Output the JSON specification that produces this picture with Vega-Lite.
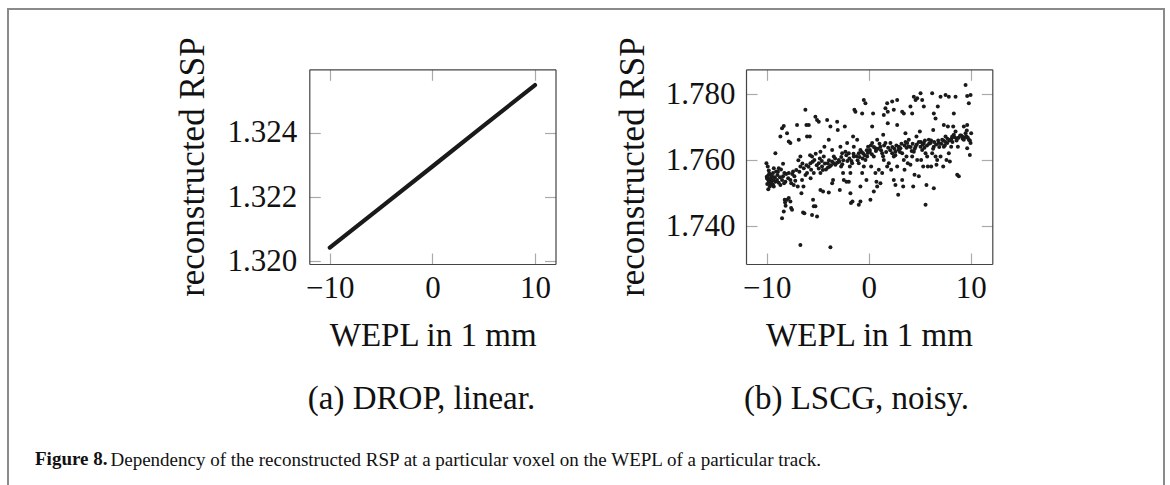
{
  "$schema": "https://vega.github.io/schema/vega-lite/v6.json",
  "autosize": {"type": "none"},
  "width": 1156,
  "height": 476,
  "padding": {"left": 8, "top": 9, "right": 6, "bottom": 0},
  "background": "white",
  "config": {
    "view": {"stroke": "#8a8a8a", "strokeWidth": 2, "strokeDash": [1632, 1156, 476]},
    "font": "Liberation Serif",
    "axis": {
      "grid": false,
      "domainColor": "#444",
      "domainWidth": 1.2,
      "tickColor": "#aaaaaa",
      "tickWidth": 1.2,
      "tickSize": -11,
      "labelFont": "Liberation Serif",
      "labelFontSize": 31,
      "labelColor": "#111",
      "titleFont": "Liberation Serif",
      "titleFontSize": 33,
      "titleFontWeight": "normal",
      "titleColor": "#111"
    }
  },
  "title": {
    "text": "Figure 8.",
    "orient": "bottom",
    "anchor": "start",
    "frame": "group",
    "offset": -20,
    "dx": 27,
    "baseline": "alphabetic",
    "font": "Liberation Serif",
    "fontSize": 19,
    "fontWeight": "bold",
    "color": "#111"
  },
  "datasets": {
    "drop": [
      {"wepl": -10, "rsp": 1.32043},
      {"wepl": -5, "rsp": 1.32169},
      {"wepl": 0, "rsp": 1.32295},
      {"wepl": 5, "rsp": 1.32422},
      {"wepl": 10, "rsp": 1.32548}
    ],
    "lscg": [
      {"wepl":-10.03,"rsp":1.7591},{"wepl":-9.90,"rsp":1.7581},{"wepl":-9.80,"rsp":1.7535},{"wepl":-9.71,"rsp":1.7540},{"wepl":-9.97,"rsp":1.7545},{"wepl":-9.58,"rsp":1.7532},{"wepl":-9.48,"rsp":1.7551},{"wepl":-9.38,"rsp":1.7561},{"wepl":-9.64,"rsp":1.7525},{"wepl":-9.31,"rsp":1.7520},{"wepl":-9.15,"rsp":1.7535},{"wepl":-9.80,"rsp":1.7569},{"wepl":-9.87,"rsp":1.7553},{"wepl":-9.31,"rsp":1.7576},{"wepl":-9.08,"rsp":1.7566},{"wepl":-9.15,"rsp":1.7621},{"wepl":-10.0,"rsp":1.7550},{"wepl":-9.95,"rsp":1.7528},{"wepl":-9.75,"rsp":1.7560},{"wepl":-9.6,"rsp":1.7545},{"wepl":-9.5,"rsp":1.7538},{"wepl":-9.4,"rsp":1.7527},{"wepl":-9.2,"rsp":1.7548},{"wepl":-9.9,"rsp":1.7542},{"wepl":-9.7,"rsp":1.7520},{"wepl":-9.55,"rsp":1.7555},{"wepl":-9.85,"rsp":1.7512},{"wepl":-9.35,"rsp":1.7540},
      {"wepl":-8.99,"rsp":1.7540},{"wepl":-8.82,"rsp":1.7532},{"wepl":-8.66,"rsp":1.7525},{"wepl":-8.50,"rsp":1.7540},{"wepl":-8.40,"rsp":1.7551},{"wepl":-8.27,"rsp":1.7561},{"wepl":-8.17,"rsp":1.7535},{"wepl":-8.66,"rsp":1.7672},{"wepl":-8.50,"rsp":1.7697},{"wepl":-8.33,"rsp":1.7704},{"wepl":-8.50,"rsp":1.7424},{"wepl":-8.33,"rsp":1.7444},{"wepl":-8.24,"rsp":1.7480},{"wepl":-8.40,"rsp":1.7589},{"wepl":-8.82,"rsp":1.7576},{"wepl":-8.9,"rsp":1.7565},{"wepl":-8.7,"rsp":1.7548},{"wepl":-8.6,"rsp":1.7572},{"wepl":-8.3,"rsp":1.7530},{"wepl":-8.1,"rsp":1.7558},{"wepl":-8.2,"rsp":1.7472},{"wepl":-8.15,"rsp":1.7462},{"wepl":-8.95,"rsp":1.7555},
      {"wepl":-8.01,"rsp":1.7682},{"wepl":-7.84,"rsp":1.7657},{"wepl":-7.68,"rsp":1.7652},{"wepl":-8.01,"rsp":1.7480},{"wepl":-7.84,"rsp":1.7485},{"wepl":-7.68,"rsp":1.7475},{"wepl":-7.61,"rsp":1.7455},{"wepl":-7.52,"rsp":1.7450},{"wepl":-7.84,"rsp":1.7561},{"wepl":-7.68,"rsp":1.7540},{"wepl":-7.35,"rsp":1.7525},{"wepl":-7.29,"rsp":1.7551},{"wepl":-7.42,"rsp":1.7566},{"wepl":-7.9,"rsp":1.7545},{"wepl":-7.5,"rsp":1.7558},{"wepl":-7.2,"rsp":1.7538},{"wepl":-7.6,"rsp":1.7530},{"wepl":-7.1,"rsp":1.7570},
      {"wepl":-7.03,"rsp":1.7707},{"wepl":-6.86,"rsp":1.7662},{"wepl":-6.70,"rsp":1.7581},{"wepl":-6.54,"rsp":1.7540},{"wepl":-6.44,"rsp":1.7441},{"wepl":-6.31,"rsp":1.7439},{"wepl":-6.60,"rsp":1.7500},{"wepl":-6.96,"rsp":1.7520},{"wepl":-6.70,"rsp":1.7611},{"wepl":-6.37,"rsp":1.7576},{"wepl":-6.21,"rsp":1.7753},{"wepl":-6.11,"rsp":1.7707},{"wepl":-6.05,"rsp":1.7672},{"wepl":-6.70,"rsp":1.7343},{"wepl":-6.8,"rsp":1.7565},{"wepl":-6.5,"rsp":1.7590},{"wepl":-6.2,"rsp":1.7555},{"wepl":-6.9,"rsp":1.7600},{"wepl":-6.4,"rsp":1.7520},{"wepl":-6.1,"rsp":1.7585},
      {"wepl":-5.88,"rsp":1.7707},{"wepl":-5.78,"rsp":1.7672},{"wepl":-5.72,"rsp":1.7591},{"wepl":-5.65,"rsp":1.7571},{"wepl":-5.39,"rsp":1.7561},{"wepl":-5.56,"rsp":1.7611},{"wepl":-5.46,"rsp":1.7480},{"wepl":-5.56,"rsp":1.7434},{"wepl":-5.39,"rsp":1.7460},{"wepl":-5.23,"rsp":1.7732},{"wepl":-5.33,"rsp":1.7601},{"wepl":-5.75,"rsp":1.7615},{"wepl":-6.05,"rsp":1.7561},{"wepl":-5.9,"rsp":1.7580},{"wepl":-5.5,"rsp":1.7595},{"wepl":-5.2,"rsp":1.7620},{"wepl":-5.7,"rsp":1.7545},{"wepl":-5.1,"rsp":1.7585},
      {"wepl":-5.07,"rsp":1.7722},{"wepl":-4.90,"rsp":1.7717},{"wepl":-4.74,"rsp":1.7626},{"wepl":-4.90,"rsp":1.7591},{"wepl":-4.58,"rsp":1.7581},{"wepl":-4.41,"rsp":1.7611},{"wepl":-5.07,"rsp":1.7429},{"wepl":-4.74,"rsp":1.7510},{"wepl":-4.48,"rsp":1.7505},{"wepl":-4.35,"rsp":1.7641},{"wepl":-4.74,"rsp":1.7561},{"wepl":-5.23,"rsp":1.7460},{"wepl":-4.9,"rsp":1.7575},{"wepl":-4.6,"rsp":1.7598},{"wepl":-4.3,"rsp":1.7590},{"wepl":-4.2,"rsp":1.7572},{"wepl":-4.8,"rsp":1.7605},{"wepl":-4.5,"rsp":1.7570},
      {"wepl":-3.76,"rsp":1.7336},{"wepl":-4.08,"rsp":1.7722},{"wepl":-3.92,"rsp":1.7662},{"wepl":-3.76,"rsp":1.7702},{"wepl":-3.59,"rsp":1.7631},{"wepl":-3.43,"rsp":1.7591},{"wepl":-4.02,"rsp":1.7591},{"wepl":-3.82,"rsp":1.7581},{"wepl":-3.59,"rsp":1.7530},{"wepl":-3.43,"rsp":1.7611},{"wepl":-3.27,"rsp":1.7586},{"wepl":-3.92,"rsp":1.7502},{"wepl":-3.50,"rsp":1.7540},{"wepl":-3.9,"rsp":1.7600},{"wepl":-3.7,"rsp":1.7585},{"wepl":-3.6,"rsp":1.7596},{"wepl":-3.3,"rsp":1.7605},{"wepl":-3.1,"rsp":1.7592},{"wepl":-4.0,"rsp":1.7578},
      {"wepl":-3.10,"rsp":1.7717},{"wepl":-3.04,"rsp":1.7692},{"wepl":-2.78,"rsp":1.7641},{"wepl":-2.94,"rsp":1.7601},{"wepl":-2.71,"rsp":1.7581},{"wepl":-2.52,"rsp":1.7561},{"wepl":-2.61,"rsp":1.7621},{"wepl":-2.45,"rsp":1.7540},{"wepl":-2.35,"rsp":1.7702},{"wepl":-2.84,"rsp":1.7510},{"wepl":-2.29,"rsp":1.7626},{"wepl":-2.9,"rsp":1.7595},{"wepl":-2.7,"rsp":1.7610},{"wepl":-2.5,"rsp":1.7600},{"wepl":-2.2,"rsp":1.7615},{"wepl":-2.6,"rsp":1.7588},{"wepl":-2.1,"rsp":1.7598},
      {"wepl":-2.12,"rsp":1.7652},{"wepl":-1.96,"rsp":1.7621},{"wepl":-1.86,"rsp":1.7581},{"wepl":-1.80,"rsp":1.7561},{"wepl":-1.63,"rsp":1.7591},{"wepl":-1.47,"rsp":1.7611},{"wepl":-1.41,"rsp":1.7753},{"wepl":-1.31,"rsp":1.7747},{"wepl":-1.80,"rsp":1.7500},{"wepl":-1.96,"rsp":1.7535},{"wepl":-1.54,"rsp":1.7672},{"wepl":-1.47,"rsp":1.7641},{"wepl":-2.19,"rsp":1.7535},{"wepl":-1.75,"rsp":1.7470},{"wepl":-1.6,"rsp":1.7475},{"wepl":-1.9,"rsp":1.7605},{"wepl":-1.7,"rsp":1.7598},{"wepl":-1.5,"rsp":1.7620},{"wepl":-1.2,"rsp":1.7612},{"wepl":-1.1,"rsp":1.7600},
      {"wepl":-0.98,"rsp":1.7465},{"wepl":-0.82,"rsp":1.7475},{"wepl":-0.49,"rsp":1.7783},{"wepl":-0.33,"rsp":1.7773},{"wepl":-0.65,"rsp":1.7742},{"wepl":-0.82,"rsp":1.7631},{"wepl":-0.56,"rsp":1.7621},{"wepl":-0.49,"rsp":1.7581},{"wepl":-0.33,"rsp":1.7601},{"wepl":-0.16,"rsp":1.7611},{"wepl":-1.14,"rsp":1.7662},{"wepl":-0.98,"rsp":1.7621},{"wepl":-0.65,"rsp":1.7561},{"wepl":-0.23,"rsp":1.7540},{"wepl":-0.07,"rsp":1.7641},{"wepl":-0.82,"rsp":1.7520},{"wepl":-0.98,"rsp":1.7591},{"wepl":-0.9,"rsp":1.7610},{"wepl":-0.7,"rsp":1.7625},{"wepl":-0.4,"rsp":1.7615},{"wepl":-0.2,"rsp":1.7630},{"wepl":-0.1,"rsp":1.7622},{"wepl":-0.6,"rsp":1.7605},
      {"wepl":0.16,"rsp":1.7480},{"wepl":0.49,"rsp":1.7505},{"wepl":0.82,"rsp":1.7520},{"wepl":0.42,"rsp":1.7742},{"wepl":0.23,"rsp":1.7581},{"wepl":0.49,"rsp":1.7611},{"wepl":0.65,"rsp":1.7636},{"wepl":0.82,"rsp":1.7662},{"wepl":0.10,"rsp":1.7631},{"wepl":0.33,"rsp":1.7652},{"wepl":0.65,"rsp":1.7561},{"wepl":0.98,"rsp":1.7571},{"wepl":0.75,"rsp":1.7535},{"wepl":0.33,"rsp":1.7702},{"wepl":0.1,"rsp":1.7625},{"wepl":0.3,"rsp":1.7618},{"wepl":0.5,"rsp":1.7640},{"wepl":0.7,"rsp":1.7628},{"wepl":0.9,"rsp":1.7635},{"wepl":0.2,"rsp":1.7645},
      {"wepl":1.47,"rsp":1.7737},{"wepl":1.63,"rsp":1.7758},{"wepl":1.80,"rsp":1.7773},{"wepl":1.86,"rsp":1.7747},{"wepl":1.14,"rsp":1.7641},{"wepl":1.31,"rsp":1.7621},{"wepl":1.47,"rsp":1.7601},{"wepl":1.63,"rsp":1.7652},{"wepl":1.80,"rsp":1.7581},{"wepl":1.96,"rsp":1.7591},{"wepl":1.31,"rsp":1.7561},{"wepl":1.14,"rsp":1.7530},{"wepl":1.86,"rsp":1.7712},{"wepl":1.41,"rsp":1.7677},{"wepl":1.2,"rsp":1.7630},{"wepl":1.5,"rsp":1.7645},{"wepl":1.7,"rsp":1.7625},{"wepl":1.9,"rsp":1.7638},{"wepl":1.4,"rsp":1.7612},{"wepl":1.05,"rsp":1.7650},
      {"wepl":2.29,"rsp":1.7778},{"wepl":2.45,"rsp":1.7753},{"wepl":2.78,"rsp":1.7783},{"wepl":2.88,"rsp":1.7495},{"wepl":2.12,"rsp":1.7652},{"wepl":2.29,"rsp":1.7621},{"wepl":2.45,"rsp":1.7611},{"wepl":2.61,"rsp":1.7626},{"wepl":2.78,"rsp":1.7581},{"wepl":2.94,"rsp":1.7641},{"wepl":2.45,"rsp":1.7540},{"wepl":2.61,"rsp":1.7525},{"wepl":2.19,"rsp":1.7571},{"wepl":2.78,"rsp":1.7707},{"wepl":2.1,"rsp":1.7630},{"wepl":2.3,"rsp":1.7640},{"wepl":2.5,"rsp":1.7635},{"wepl":2.7,"rsp":1.7645},{"wepl":2.9,"rsp":1.7632},{"wepl":2.6,"rsp":1.7615},
      {"wepl":3.27,"rsp":1.7747},{"wepl":3.43,"rsp":1.7742},{"wepl":3.59,"rsp":1.7682},{"wepl":3.76,"rsp":1.7652},{"wepl":3.27,"rsp":1.7621},{"wepl":3.43,"rsp":1.7601},{"wepl":3.10,"rsp":1.7636},{"wepl":3.69,"rsp":1.7611},{"wepl":3.50,"rsp":1.7571},{"wepl":3.82,"rsp":1.7591},{"wepl":3.27,"rsp":1.7540},{"wepl":3.92,"rsp":1.7662},{"wepl":3.37,"rsp":1.7520},{"wepl":3.2,"rsp":1.7650},{"wepl":3.5,"rsp":1.7645},{"wepl":3.7,"rsp":1.7638},{"wepl":3.9,"rsp":1.7642},{"wepl":3.05,"rsp":1.7625},{"wepl":3.6,"rsp":1.7655},
      {"wepl":4.08,"rsp":1.7763},{"wepl":4.25,"rsp":1.7742},{"wepl":4.41,"rsp":1.7793},{"wepl":4.58,"rsp":1.7783},{"wepl":4.74,"rsp":1.7788},{"wepl":4.25,"rsp":1.7611},{"wepl":4.41,"rsp":1.7626},{"wepl":4.58,"rsp":1.7641},{"wepl":4.74,"rsp":1.7601},{"wepl":4.35,"rsp":1.7520},{"wepl":4.48,"rsp":1.7556},{"wepl":4.90,"rsp":1.7551},{"wepl":4.67,"rsp":1.7672},{"wepl":4.08,"rsp":1.7586},{"wepl":4.1,"rsp":1.7640},{"wepl":4.3,"rsp":1.7650},{"wepl":4.5,"rsp":1.7635},{"wepl":4.7,"rsp":1.7648},{"wepl":4.9,"rsp":1.7655},{"wepl":4.2,"rsp":1.7628},
      {"wepl":5.07,"rsp":1.7803},{"wepl":5.23,"rsp":1.7783},{"wepl":5.39,"rsp":1.7763},{"wepl":5.56,"rsp":1.7465},{"wepl":5.65,"rsp":1.7525},{"wepl":5.07,"rsp":1.7641},{"wepl":5.23,"rsp":1.7631},{"wepl":5.39,"rsp":1.7652},{"wepl":5.56,"rsp":1.7621},{"wepl":5.72,"rsp":1.7611},{"wepl":5.88,"rsp":1.7662},{"wepl":5.13,"rsp":1.7601},{"wepl":5.33,"rsp":1.7581},{"wepl":5.78,"rsp":1.7581},{"wepl":5.00,"rsp":1.7687},{"wepl":5.1,"rsp":1.7655},{"wepl":5.3,"rsp":1.7648},{"wepl":5.5,"rsp":1.7660},{"wepl":5.7,"rsp":1.7645},{"wepl":5.9,"rsp":1.7650},{"wepl":5.45,"rsp":1.7638},
      {"wepl":6.21,"rsp":1.7803},{"wepl":6.37,"rsp":1.7742},{"wepl":6.54,"rsp":1.7727},{"wepl":6.76,"rsp":1.7763},{"wepl":6.37,"rsp":1.7515},{"wepl":6.05,"rsp":1.7652},{"wepl":6.21,"rsp":1.7621},{"wepl":6.37,"rsp":1.7641},{"wepl":6.54,"rsp":1.7611},{"wepl":6.70,"rsp":1.7601},{"wepl":6.86,"rsp":1.7652},{"wepl":6.11,"rsp":1.7581},{"wepl":6.63,"rsp":1.7586},{"wepl":6.31,"rsp":1.7692},{"wepl":6.1,"rsp":1.7660},{"wepl":6.4,"rsp":1.7655},{"wepl":6.6,"rsp":1.7648},{"wepl":6.8,"rsp":1.7660},{"wepl":6.9,"rsp":1.7640},{"wepl":6.3,"rsp":1.7635},
      {"wepl":7.03,"rsp":1.7793},{"wepl":7.52,"rsp":1.7798},{"wepl":7.84,"rsp":1.7793},{"wepl":7.19,"rsp":1.7662},{"wepl":7.35,"rsp":1.7641},{"wepl":7.52,"rsp":1.7672},{"wepl":7.68,"rsp":1.7652},{"wepl":7.84,"rsp":1.7621},{"wepl":7.03,"rsp":1.7611},{"wepl":7.29,"rsp":1.7581},{"wepl":7.61,"rsp":1.7601},{"wepl":7.75,"rsp":1.7702},{"wepl":7.35,"rsp":1.7707},{"wepl":7.1,"rsp":1.7650},{"wepl":7.3,"rsp":1.7660},{"wepl":7.5,"rsp":1.7655},{"wepl":7.7,"rsp":1.7665},{"wepl":7.9,"rsp":1.7660},{"wepl":7.45,"rsp":1.7645},
      {"wepl":8.33,"rsp":1.7742},{"wepl":8.50,"rsp":1.7793},{"wepl":8.66,"rsp":1.7556},{"wepl":8.82,"rsp":1.7551},{"wepl":8.01,"rsp":1.7662},{"wepl":8.17,"rsp":1.7672},{"wepl":8.33,"rsp":1.7677},{"wepl":8.50,"rsp":1.7687},{"wepl":8.66,"rsp":1.7667},{"wepl":8.07,"rsp":1.7641},{"wepl":8.27,"rsp":1.7702},{"wepl":8.73,"rsp":1.7641},{"wepl":7.94,"rsp":1.7596},{"wepl":8.1,"rsp":1.7665},{"wepl":8.4,"rsp":1.7670},{"wepl":8.6,"rsp":1.7660},{"wepl":8.8,"rsp":1.7668},{"wepl":8.95,"rsp":1.7675},{"wepl":8.2,"rsp":1.7655},
      {"wepl":9.48,"rsp":1.7828},{"wepl":9.64,"rsp":1.7795},{"wepl":9.80,"rsp":1.7773},{"wepl":9.97,"rsp":1.7798},{"wepl":9.31,"rsp":1.7702},{"wepl":9.48,"rsp":1.7682},{"wepl":9.64,"rsp":1.7707},{"wepl":9.80,"rsp":1.7662},{"wepl":9.97,"rsp":1.7652},{"wepl":9.15,"rsp":1.7672},{"wepl":9.64,"rsp":1.7636},{"wepl":9.90,"rsp":1.7616},{"wepl":10.03,"rsp":1.7682},{"wepl":9.31,"rsp":1.7662},{"wepl":9.58,"rsp":1.7672},{"wepl":9.2,"rsp":1.7665},{"wepl":9.4,"rsp":1.7670},{"wepl":9.7,"rsp":1.7668},{"wepl":9.9,"rsp":1.7660},{"wepl":9.05,"rsp":1.7675},{"wepl":9.6,"rsp":1.7690}
    ]
  },
  "layer": [
    {
      "data": {"name": "drop"},
      "layer": [
        {
          "mark": {"type": "line", "color": "#1a1a1a", "strokeWidth": 4.2, "strokeCap": "round"},
          "encoding": {
            "x": {"field": "wepl", "type": "quantitative",
              "scale": {"domain": [-12, 12], "range": [301.3, 547.5], "nice": false, "zero": false},
              "axis": {"orient": "bottom", "offset": -221, "values": [-10, 0, 10], "labelPadding": 20,
                "title": "WEPL in 1 mm", "titleX": 424.7, "titleY": 81, "titleBaseline": "alphabetic", "titleAlign": "center", "titleAngle": 0}},
            "y": {"field": "rsp", "type": "quantitative",
              "scale": {"domain": [1.31992, 1.32597], "range": [255, 60.3], "nice": false, "zero": false},
              "axis": {"orient": "left", "offset": -301.3, "values": [1.320, 1.322, 1.324], "format": ".3f", "labelPadding": 23.6,
                "title": "reconstructed RSP", "titleFontSize": 35, "titleX": -105.8, "titleY": 157.6, "titleAngle": 270, "titleBaseline": "alphabetic", "titleAlign": "center"}}
          }
        },
        {
          "mark": {"type": "line", "opacity": 0},
          "encoding": {
            "x": {"field": "wepl", "type": "quantitative",
              "axis": {"orient": "top", "offset": -60.3, "values": [-10, 0, 10], "labels": false,
                "title": "(a) DROP, linear.", "titleX": 413, "titleY": 338.7, "titleBaseline": "alphabetic", "titleAlign": "center", "titleAngle": 0}},
            "y": {"field": "rsp", "type": "quantitative",
              "axis": {"orient": "right", "offset": -608.5, "values": [1.320, 1.322, 1.324], "labels": false,
                "title": "Dependency of the reconstructed RSP at a particular voxel on the WEPL of a particular track.",
                "titleFontSize": 19, "titleX": -445.5, "titleY": 456, "titleAngle": 0, "titleAlign": "left", "titleBaseline": "alphabetic"}}
          }
        }
      ],
      "resolve": {"axis": {"x": "independent", "y": "independent"}}
    },
    {
      "data": {"name": "lscg"},
      "layer": [
        {
          "mark": {"type": "point", "filled": true, "color": "#1a1a1a", "opacity": 1, "size": 16},
          "encoding": {
            "x": {"field": "wepl", "type": "quantitative",
              "scale": {"domain": [-12.03, 12.1], "range": [738, 984.3], "nice": false, "zero": false},
              "axis": {"orient": "bottom", "offset": -221, "values": [-10, 0, 10], "labelPadding": 20,
                "title": "WEPL in 1 mm", "titleX": 861, "titleY": 81, "titleBaseline": "alphabetic", "titleAlign": "center", "titleAngle": 0}},
            "y": {"field": "rsp", "type": "quantitative",
              "scale": {"domain": [1.7285, 1.7876], "range": [255, 60.3], "nice": false, "zero": false},
              "axis": {"orient": "left", "offset": -738, "values": [1.740, 1.760, 1.780], "format": ".3f", "labelPadding": 22,
                "title": "reconstructed RSP", "titleFontSize": 35, "titleX": -103, "titleY": 157.6, "titleAngle": 270, "titleBaseline": "alphabetic", "titleAlign": "center"}}
          }
        },
        {
          "mark": {"type": "point", "opacity": 0},
          "encoding": {
            "x": {"field": "wepl", "type": "quantitative",
              "axis": {"orient": "top", "offset": -60.3, "values": [-10, 0, 10], "labels": false,
                "title": "(b) LSCG, noisy.", "titleX": 848, "titleY": 338.7, "titleBaseline": "alphabetic", "titleAlign": "center", "titleAngle": 0}},
            "y": {"field": "rsp", "type": "quantitative",
              "axis": {"orient": "right", "offset": -171.7, "values": [1.740, 1.760, 1.780], "labels": false, "title": null}}
          }
        }
      ],
      "resolve": {"axis": {"x": "independent", "y": "independent"}}
    }
  ],
  "resolve": {"scale": {"x": "independent", "y": "independent"}, "axis": {"x": "independent", "y": "independent"}}
}
